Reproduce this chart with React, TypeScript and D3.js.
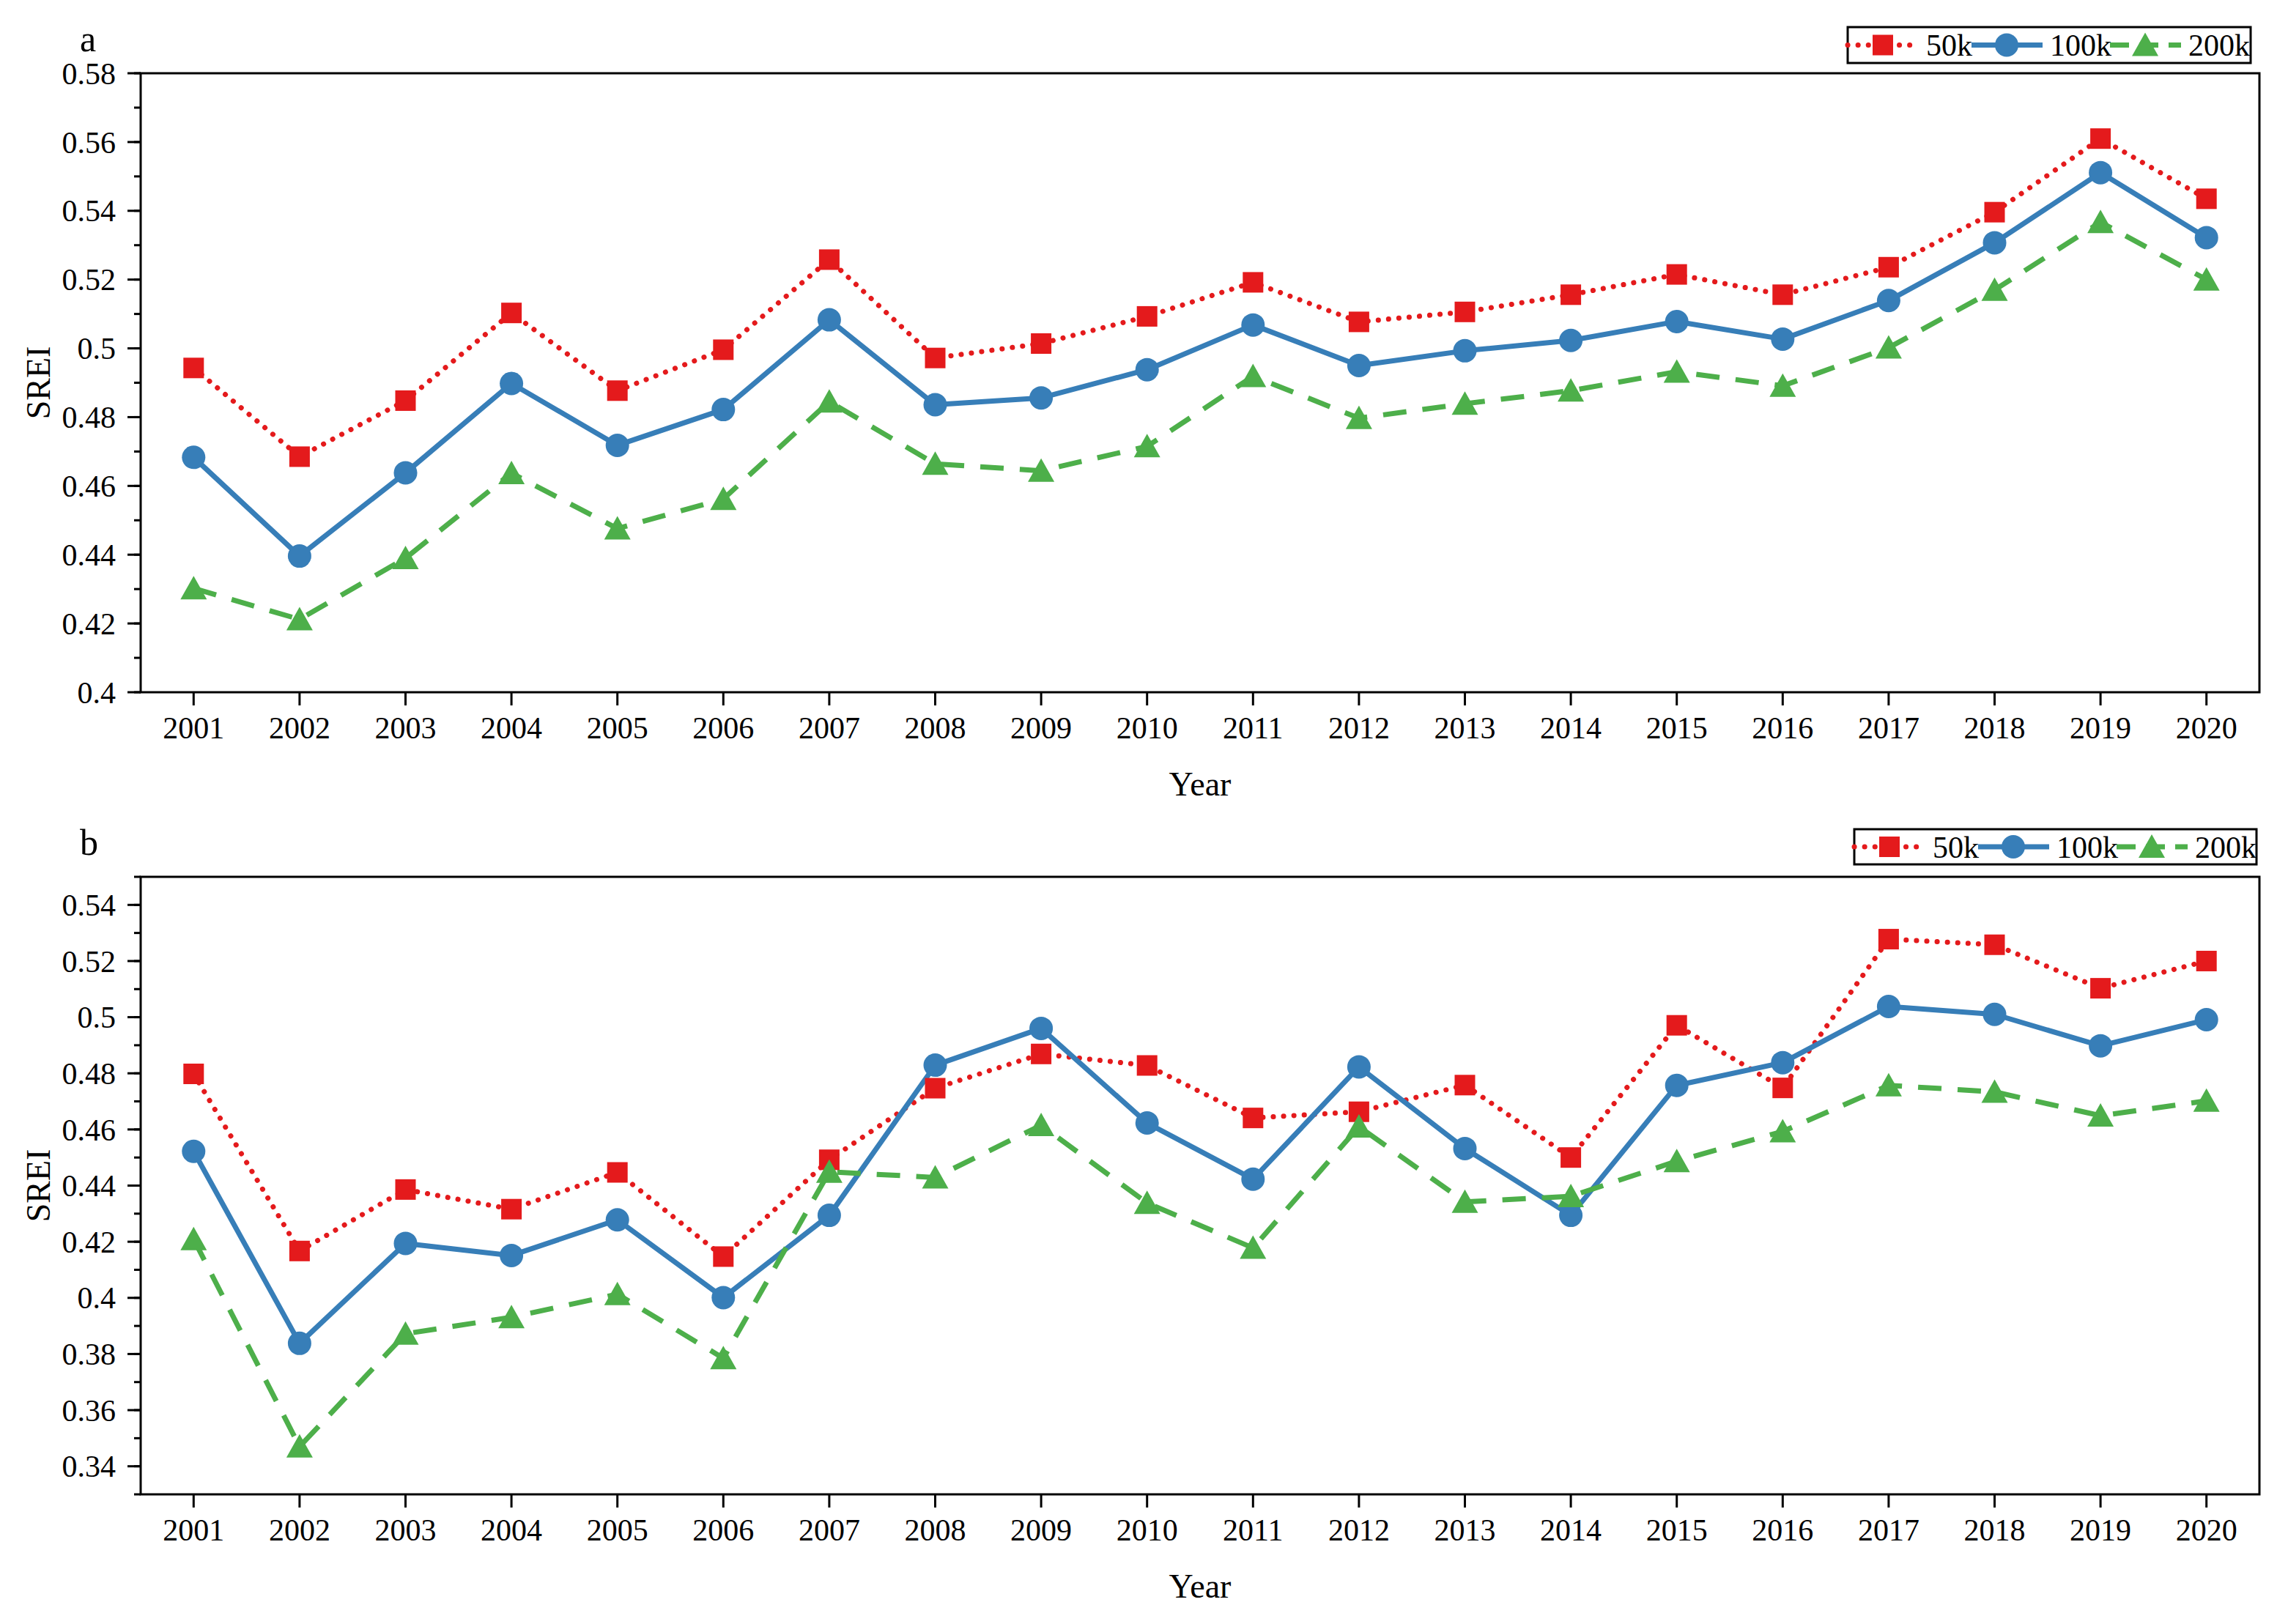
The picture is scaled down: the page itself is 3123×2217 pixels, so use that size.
import * as d3 from "d3";

const years = ["2001", "2002", "2003", "2004", "2005", "2006", "2007", "2008", "2009", "2010",
  "2011", "2012", "2013", "2014", "2015", "2016", "2017", "2018", "2019", "2020"];

const seriesNames = ["50k", "100k", "200k"];

// panel a
const a50 = [0.4943, 0.4685, 0.4848, 0.5103, 0.4877, 0.4996, 0.5258, 0.4972, 0.5014, 0.5093,
  0.5192, 0.5077, 0.5106, 0.5156, 0.5215, 0.5156, 0.5236, 0.5396, 0.561, 0.5435];
const a100 = [0.4683, 0.4396, 0.4638, 0.4898, 0.4718, 0.4822, 0.5083, 0.4836, 0.4856, 0.4938,
  0.5068, 0.495, 0.4993, 0.5023, 0.5078, 0.5027, 0.5139, 0.5307, 0.5511, 0.5322];
const a200 = [0.4302, 0.4212, 0.439, 0.4637, 0.4476, 0.4562, 0.4845, 0.4664, 0.4644, 0.4715,
  0.4919, 0.4797, 0.4839, 0.4877, 0.4932, 0.4891, 0.5002, 0.517, 0.5367, 0.52];

// panel b
const b50 = [0.4798, 0.4167, 0.4386, 0.4316, 0.4447, 0.4147, 0.4492, 0.4747, 0.4869, 0.4828,
  0.4641, 0.4663, 0.4758, 0.45, 0.4971, 0.4748, 0.5278, 0.5258, 0.5103, 0.52];
const b100 = [0.4522, 0.3838, 0.4194, 0.4151, 0.4278, 0.4001, 0.4294, 0.4829, 0.496, 0.4623,
  0.4423, 0.4823, 0.4532, 0.4294, 0.4757, 0.4838, 0.5038, 0.501, 0.4898, 0.4991];
const b200 = [0.4209, 0.347, 0.3872, 0.3931, 0.4013, 0.3785, 0.4449, 0.4429, 0.4615, 0.4338,
  0.4178, 0.461, 0.4342, 0.4362, 0.4487, 0.4593, 0.4757, 0.4734, 0.4649, 0.4702];

const aTicks = [0.4, 0.42, 0.44, 0.46, 0.48, 0.5, 0.52, 0.54, 0.56, 0.58];
const bTicks = [0.34, 0.36, 0.38, 0.4, 0.42, 0.44, 0.46, 0.48, 0.5, 0.52, 0.54];

const W = 3123, H = 2217;
const FONT = "'Liberation Serif', 'Times New Roman', serif";
const RED = "#E41A1C", BLUE = "#377EB8", GREEN = "#4DAF4A";
const left = 192, right = 3084;

const styles = [
  { color: RED, dash: "0.1 14", cap: "round", width: 7, shape: "square" },
  { color: BLUE, dash: null, cap: "butt", width: 7, shape: "circle" },
  { color: GREEN, dash: "32 22", cap: "butt", width: 7, shape: "triangle" },
];

const fmt = (v: number) => String(+v.toFixed(2));

function Marker({ shape, x, y, color }: { shape: string; x: number; y: number; color: string }) {
  if (shape === "square") return <rect x={x - 14} y={y - 14} width={28} height={28} fill={color} />;
  if (shape === "circle") return <circle cx={x} cy={y} r={16} fill={color} />;
  return <path d={`M${x},${y - 17}L${x + 18},${y + 15}L${x - 18},${y + 15}Z`} fill={color} />;
}

function Panel({ label, top, bottom, domain, ticks, data, legend }: {
  label: string; top: number; bottom: number; domain: [number, number]; ticks: number[];
  data: number[][]; legend: { x: number; y: number; w: number; h: number };
}) {
  const x = d3.scalePoint<string>().domain(years).range([left, right]).padding(0.5);
  const y = d3.scaleLinear().domain(domain).range([bottom, top]);
  const minor = d3.range(Math.round(domain[0] * 100), Math.round(domain[1] * 100) + 1).map(d => d / 100);
  const line = d3.line<number>().x((_, i) => x(years[i])!).y(d => y(d));
  const textW = [62, 82, 82];
  let lx = legend.x;
  const cy = legend.y + legend.h / 2;

  return (
    <g>
      <text x={109} y={top - 30} fontSize={50} fontFamily={FONT}>{label}</text>
      {data.map((s, k) => (
        <path key={k} d={line(s)!} fill="none" stroke={styles[k].color} strokeWidth={styles[k].width}
          strokeDasharray={styles[k].dash ?? undefined} strokeLinecap={styles[k].cap as any} strokeLinejoin="round" />
      ))}
      {data.map((s, k) => s.map((v, i) => (
        <Marker key={`${k}-${i}`} shape={styles[k].shape} x={x(years[i])!} y={y(v)} color={styles[k].color} />
      )))}
      <rect x={left} y={top} width={right - left} height={bottom - top} fill="none" stroke="#000" strokeWidth={3} />
      {minor.map(v => (
        <line key={`m${v}`} x1={left - 9} x2={left} y1={y(v)} y2={y(v)} stroke="#000" strokeWidth={3} />
      ))}
      {ticks.map(v => (
        <g key={`t${v}`}>
          <line x1={left - 18} x2={left} y1={y(v)} y2={y(v)} stroke="#000" strokeWidth={3} />
          <text x={158} y={y(v)} dy="0.35em" textAnchor="end" fontSize={42} fontFamily={FONT}>{fmt(v)}</text>
        </g>
      ))}
      {years.map(yr => (
        <g key={yr}>
          <line x1={x(yr)!} x2={x(yr)!} y1={bottom} y2={bottom + 18} stroke="#000" strokeWidth={3} />
          <text x={x(yr)!} y={bottom + 63} textAnchor="middle" fontSize={42} fontFamily={FONT}>{yr}</text>
        </g>
      ))}
      <text x={(left + right) / 2} y={bottom + 141} textAnchor="middle" fontSize={46} fontFamily={FONT}>Year</text>
      <text transform={`translate(68,${(top + bottom) / 2}) rotate(-90)`} textAnchor="middle" fontSize={46}
        fontFamily={FONT}>SREI</text>
      <rect x={legend.x} y={legend.y} width={legend.w} height={legend.h} fill="#fff" stroke="#000" strokeWidth={3} />
      {seriesNames.map((name, k) => {
        const x0 = lx;
        lx += 97 + 10 + textW[k];
        return (
          <g key={name}>
            <line x1={x0} x2={x0 + 97} y1={cy} y2={cy} stroke={styles[k].color} strokeWidth={styles[k].width}
              strokeDasharray={k === 2 ? "26 14" : styles[k].dash ?? undefined} strokeLinecap={styles[k].cap as any} />
            <Marker shape={styles[k].shape} x={x0 + 48} y={cy} color={styles[k].color} />
            <text x={x0 + 107} y={cy} dy="0.35em" fontSize={42} fontFamily={FONT}>{name}</text>
          </g>
        );
      })}
    </g>
  );
}

export default function App() {
  return (
    <div style={{ position: "absolute", left: 0, top: 0 }}>
      <svg width={W} height={H} style={{ display: "block", background: "#fff" }}>
        <Panel label="a" top={100} bottom={945} domain={[0.4, 0.58]} ticks={aTicks}
          data={[a50, a100, a200]} legend={{ x: 2522, y: 37, w: 550, h: 49 }} />
        <Panel label="b" top={1197} bottom={2040} domain={[0.33, 0.55]} ticks={bTicks}
          data={[b50, b100, b200]} legend={{ x: 2531, y: 1132, w: 549, h: 48 }} />
      </svg>
    </div>
  );
}
